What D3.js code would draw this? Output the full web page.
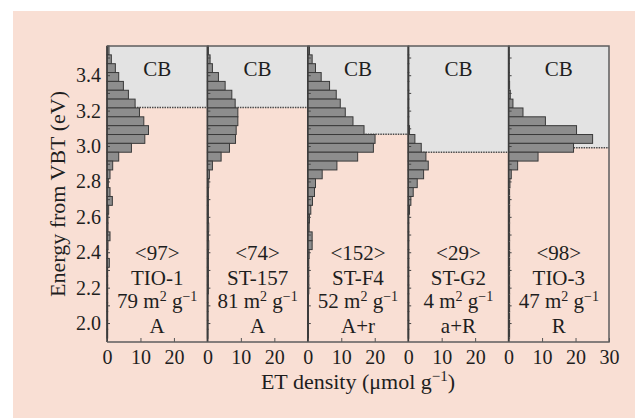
<!DOCTYPE html>
<html>
<head>
<meta charset="utf-8">
<script src="https://cdn.jsdelivr.net/npm/d3@7"></script>
<style>
  body { margin: 0; background: #fff; }
  text { font-family: "Liberation Serif", "Times New Roman", serif; fill: #1e1e1e; }
</style>
</head>
<body>
<div id="chart"></div>
<script>
// ----------------------------------------------------------------------
// data

// bin centres, eV from VBT (bins are 0.05 eV wide)
const binEnergy = [3.54, 3.49, 3.44, 3.39, 3.34, 3.29, 3.24, 3.19, 3.14, 3.09, 3.04,
                   2.99, 2.94, 2.89, 2.84, 2.79, 2.74, 2.69, 2.64, 2.59, 2.54, 2.49,
                   2.44, 2.39, 2.34, 2.29, 2.24, 2.19, 2.14, 2.09, 2.04, 1.99, 1.94];
const binWidth = 0.05;

const samples = ["TIO-1", "ST-157", "ST-F4", "ST-G2", "TIO-3"];
const totals  = ["<97>", "<74>", "<152>", "<29>", "<98>"];
const areas   = ["79", "81", "52", "4", "47"];
const phases  = ["A", "A", "A+r", "a+R", "R"];
const cbEdge  = [3.217, 3.217, 3.067, 2.965, 2.99];

// ET density, µmol g-1, one value per bin (top to bottom)
const densTIO1  = [0.6, 1.3, 2.5, 3.5, 4.9, 6.4, 8.4, 9.7, 11.0, 12.4, 11.3, 7.3, 3.5, 1.7, 0.9, 0.4, 0.9,
                   1.6, 0.5, 0.3, 0.3, 0.9, 0.3, 0.2, 0.7, 0.2, 0.2, 0.2, 0.2, 0.2, 0.2, 0.2, 0.2];
const densST157 = [0.3, 0.8, 1.5, 3.3, 5.3, 7.3, 8.3, 9.1, 9.1, 8.6, 8.4, 6.6, 4.1, 1.5, 0.6, 0.4, 0.3,
                   0.3, 0.3, 0.3, 0.4, 0.3, 0.4, 0.3, 0.3, 0.3, 0.3, 0.3, 0.2, 0.2, 0.2, 0.2, 0.2];
const densSTF4  = [0.5, 1.3, 2.3, 4.0, 6.5, 8.5, 9.7, 11.2, 13.5, 16.8, 20.1, 19.6, 14.9, 8.7, 4.3, 2.3, 2.0,
                   1.4, 0.9, 0.5, 0.4, 1.3, 1.3, 0.4, 0.3, 0.3, 0.3, 0.3, 0.2, 0.2, 0.2, 0.2, 0.2];
const densSTG2  = [0.2, 0.2, 0.2, 0.2, 0.2, 0.2, 0.2, 0.2, 0.2, 0.4, 2.0, 3.9, 5.3, 6.0, 4.6, 2.7, 1.5,
                   0.8, 0.4, 0.2, 0.2, 0.2, 0.2, 0.2, 0.2, 0.2, 0.2, 0.2, 0.2, 0.2, 0.2, 0.2, 0.2];
const densTIO3  = [0.2, 0.2, 0.2, 0.2, 0.3, 0.5, 1.3, 4.3, 11.0, 20.3, 25.1, 19.4, 8.8, 2.7, 0.8, 0.4, 0.3,
                   0.3, 0.3, 0.3, 0.3, 0.3, 0.3, 0.3, 0.3, 0.3, 0.3, 0.3, 0.3, 0.3, 0.3, 0.3, 0.3];
const densities = [densTIO1, densST157, densSTF4, densSTG2, densTIO3];

const yTicks = [2.0, 2.2, 2.4, 2.6, 2.8, 3.0, 3.2, 3.4];
const yMinorTicks = [2.0, 2.1, 2.2, 2.3, 2.4, 2.5, 2.6, 2.7, 2.8, 2.9, 3.0, 3.1, 3.2, 3.3, 3.4, 3.5];
const xTicks = [0, 10, 20];
const xTicksLast = [0, 10, 20, 30];

// ----------------------------------------------------------------------

const W = 635, H = 418;
const margin = {left: 107, right: 26, top: 46, bottom: 76};
const x0 = margin.left, x1 = W - margin.right;
const y0 = margin.top,  y1 = H - margin.bottom;

const svg = d3.select("#chart").append("svg")
    .attr("width", W).attr("height", H);

svg.append("rect")
    .attr("x", 13).attr("y", 11).attr("width", W - 13).attr("height", H - 11)
    .attr("fill", "#f9dfd4");

const y = d3.scaleLinear().domain([1.893, 3.565]).range([y1, y0]);
const panel = d3.scaleBand().domain(samples).range([x0, x1]).paddingInner(0);
const pw = panel.bandwidth();
const xv = d3.scaleLinear().domain([0, 30]).range([0, pw]);

samples.forEach(function(s, i) {
    const g = svg.append("g").attr("transform", "translate(" + panel(s) + ",0)");

    // conduction band region
    g.append("rect")
        .attr("x", 0).attr("y", y0)
        .attr("width", pw).attr("height", y(cbEdge[i]) - y0)
        .attr("fill", "#e3e3e3");
    g.append("line")
        .attr("x1", 0).attr("x2", pw)
        .attr("y1", y(cbEdge[i])).attr("y2", y(cbEdge[i]))
        .attr("stroke", "#4a4a4a").attr("stroke-width", 1.5)
        .attr("stroke-dasharray", "1.5,1");

    // histogram bars
    g.selectAll("rect.bar")
        .data(densities[i].map(function(v, k) { return {e: binEnergy[k], v: v}; }))
        .enter()
        .append("rect")
        .attr("class", "bar")
        .attr("x", 0)
        .attr("y", function(d) { return y(d.e + binWidth / 2); })
        .attr("width", function(d) { return xv(d.v); })
        .attr("height", function(d) { return y(d.e - binWidth / 2) - y(d.e + binWidth / 2); })
        .attr("fill", "#8d8d8d")
        .attr("stroke", "#3a3a3a")
        .attr("stroke-width", 1);

    // inner minor ticks on the panel's left edge
    const minor = g.append("g").call(d3.axisRight(y).tickValues(yMinorTicks).tickSize(3).tickFormat(""));
    minor.select(".domain").remove();
    minor.selectAll("line").attr("stroke", "#444");

    // x axis
    const xa = g.append("g").attr("transform", "translate(0," + y1 + ")")
        .call(d3.axisBottom(xv)
            .tickValues(i === samples.length - 1 ? xTicksLast : xTicks)
            .tickSizeInner(-4).tickSizeOuter(0).tickPadding(8)
            .tickFormat(d3.format("d")));
    xa.select(".domain").remove();
    xa.selectAll("line").attr("stroke", "#555");
    xa.selectAll("text").attr("font-size", 20).attr("font-family", null).attr("fill", "#1e1e1e");

    // panel separator
    g.append("line")
        .attr("x1", 0).attr("x2", 0).attr("y1", y0).attr("y2", y1)
        .attr("stroke", "#3c3c3c").attr("stroke-width", 1.6);

    // labels
    const cx = pw / 2;
    g.append("text").attr("x", cx).attr("y", 76).attr("text-anchor", "middle")
        .attr("font-size", 21).text("CB");
    g.append("text").attr("x", cx).attr("y", 260).attr("text-anchor", "middle")
        .attr("font-size", 21).text(totals[i]);
    g.append("text").attr("x", cx).attr("y", 285).attr("text-anchor", "middle")
        .attr("font-size", 21).text(s);
    const a = g.append("text").attr("x", cx).attr("y", 308).attr("text-anchor", "middle")
        .attr("font-size", 21);
    a.append("tspan").text(areas[i] + " m");
    a.append("tspan").attr("dy", -7).attr("font-size", 14).text("2");
    a.append("tspan").attr("dy", 7).text(" g");
    a.append("tspan").attr("dy", -7).attr("font-size", 14).text("\u22121");
    g.append("text").attr("x", cx).attr("y", 333).attr("text-anchor", "middle")
        .attr("font-size", 21).text(phases[i]);
});

// frame: top, right, bottom
svg.append("path")
    .attr("d", "M" + x0 + "," + y0 + "H" + x1 + "V" + y1 + "H" + x0)
    .attr("fill", "none").attr("stroke", "#5e5e5e").attr("stroke-width", 1.5);

// y axis labels
const ya = svg.append("g").attr("transform", "translate(" + x0 + ",0)")
    .call(d3.axisLeft(y).tickValues(yTicks).tickSize(0).tickPadding(6).tickFormat(d3.format(".1f")));
ya.select(".domain").remove();
ya.selectAll("text").attr("font-size", 20).attr("font-family", null).attr("fill", "#1e1e1e");

// axis titles
svg.append("text")
    .attr("transform", "translate(57," + ((y0 + y1) / 2) + ") rotate(-90)")
    .attr("text-anchor", "middle").attr("dy", "0.35em")
    .attr("font-size", 22).text("Energy from VBT (eV)");

const xt = svg.append("text")
    .attr("x", (x0 + x1) / 2).attr("y", 389)
    .attr("text-anchor", "middle").attr("font-size", 22);
xt.append("tspan").text("ET density (\u03bcmol g");
xt.append("tspan").attr("dy", -8).attr("font-size", 15).text("\u22121");
xt.append("tspan").attr("dy", 8).text(")");
</script>
</body>
</html>
